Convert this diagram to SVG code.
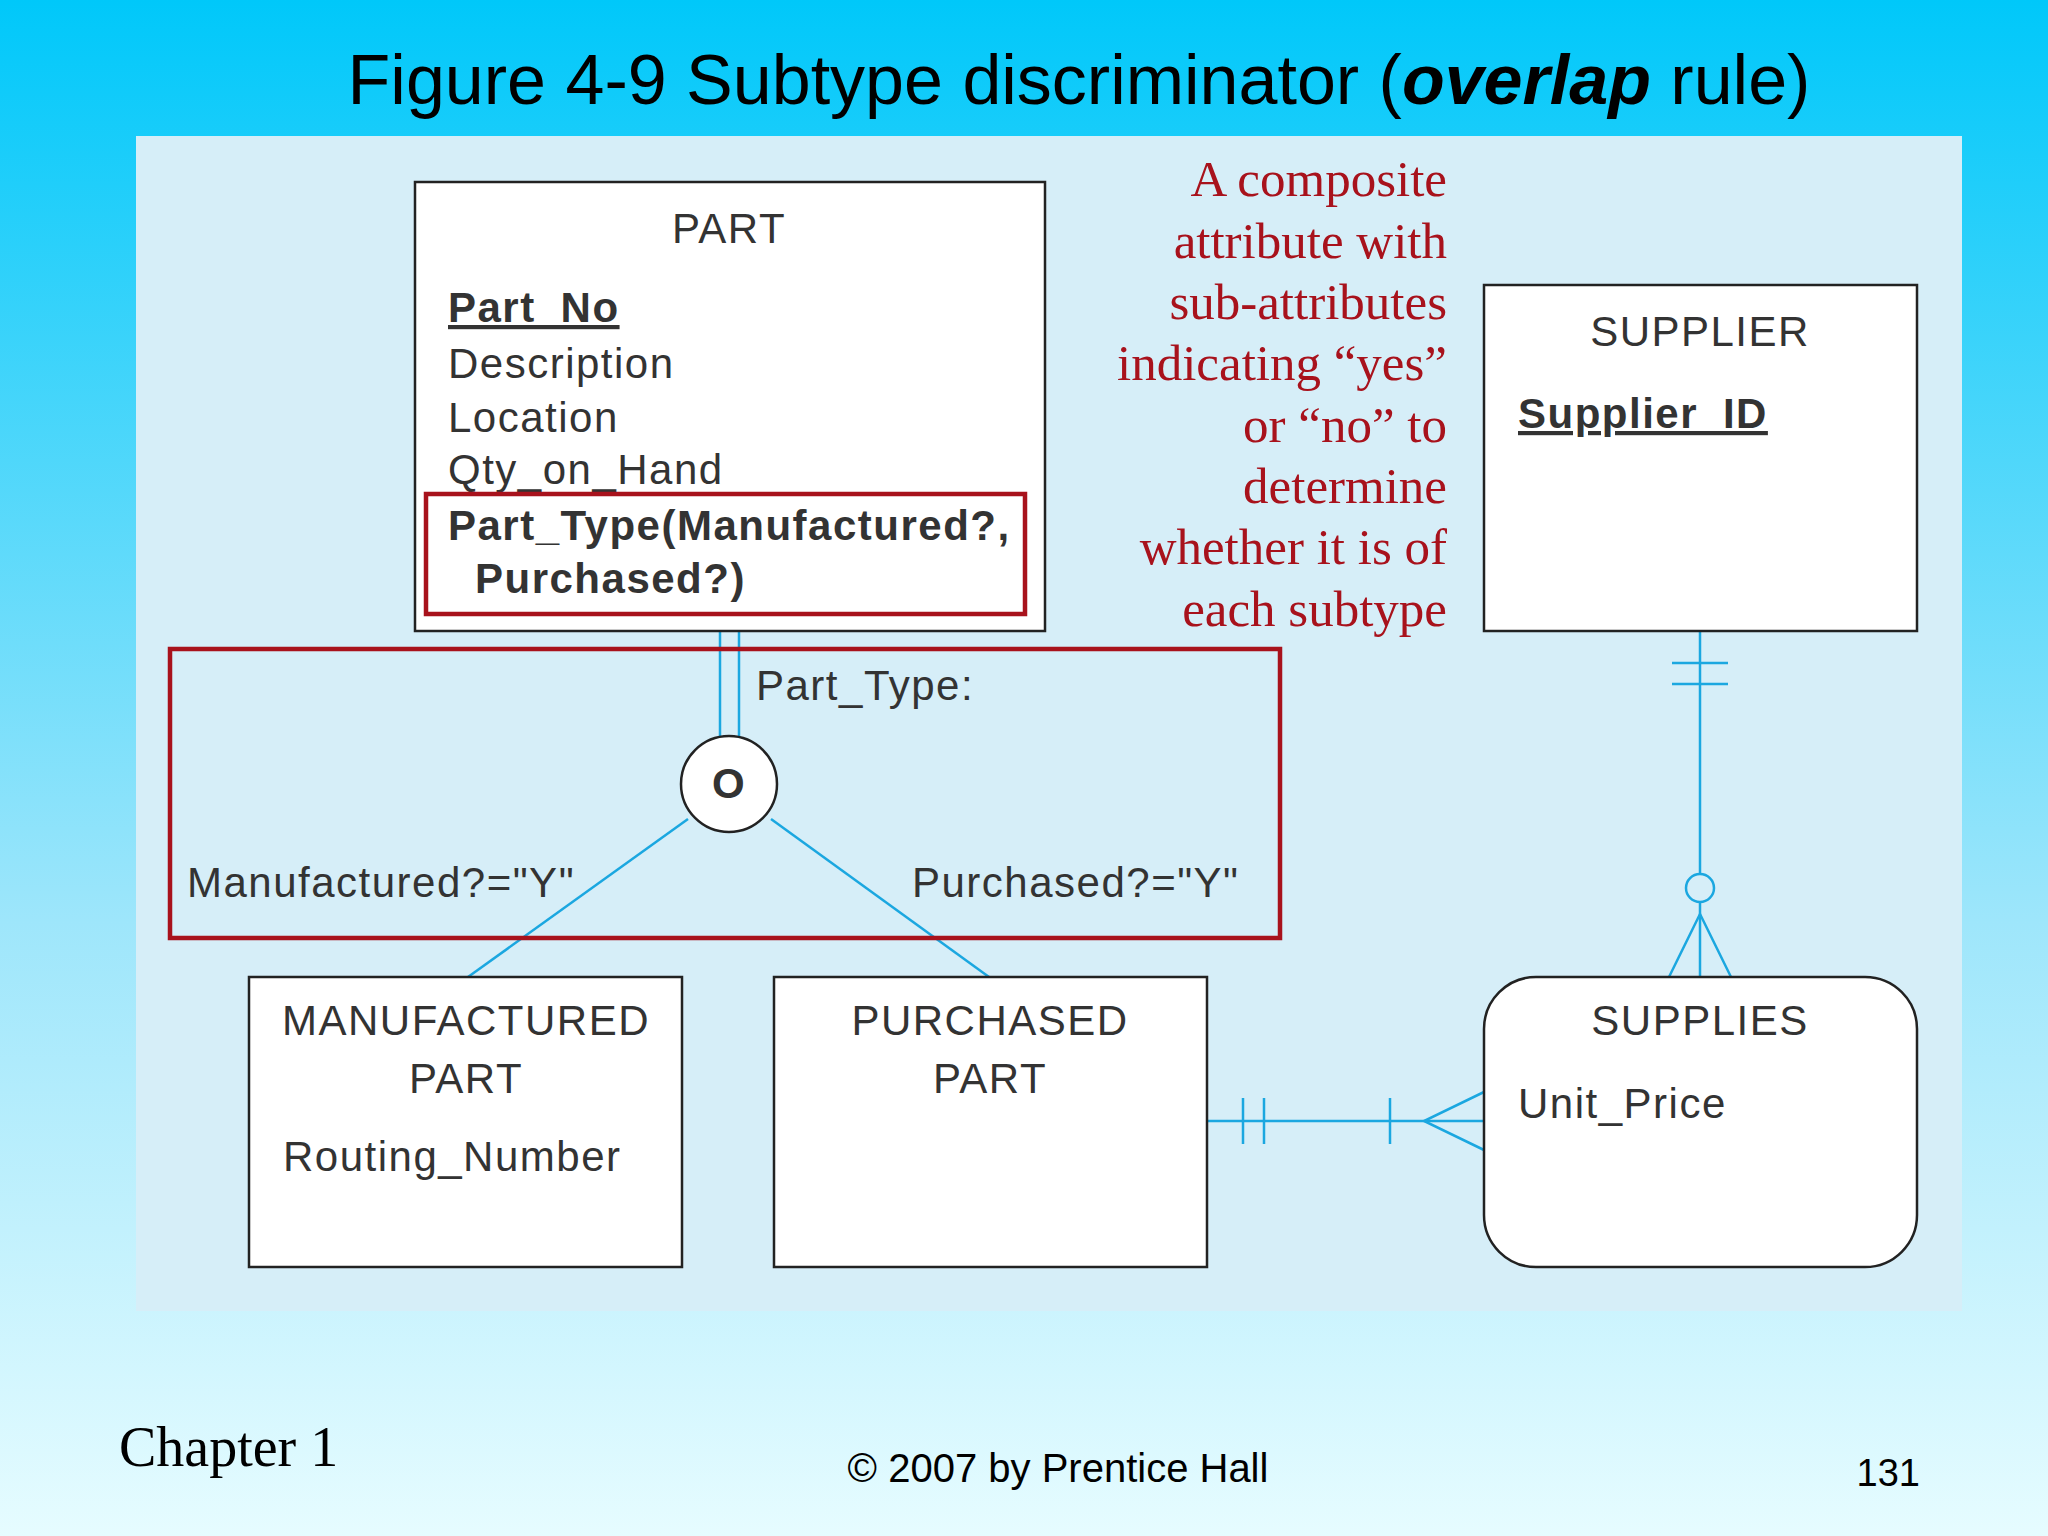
<svg xmlns="http://www.w3.org/2000/svg" width="2048" height="1536" viewBox="0 0 2048 1536">
<defs>
<linearGradient id="bg" x1="0" y1="0" x2="0" y2="1">
<stop offset="0" stop-color="#00C8FA"/><stop offset="0.6" stop-color="#9EE6FB"/><stop offset="1" stop-color="#E6FCFF"/>
</linearGradient>
<style>
.box{fill:#fff;stroke:#222;stroke-width:2.5}
.red{fill:none;stroke:#A8121C;stroke-width:4.5}
.ln{fill:none;stroke:#1BA7E0;stroke-width:2.5}
.t{font-family:"Liberation Sans",Arial,sans-serif;font-size:42px;letter-spacing:1.5px;fill:#333}
.c{text-anchor:middle}
.b{font-weight:bold}
.n{font-family:"Liberation Serif","Times New Roman",serif;font-size:51px;fill:#A8121C;text-anchor:end}
</style>
</defs>
<rect width="2048" height="1536" fill="url(#bg)"/>
<text x="1079" y="104" text-anchor="middle" font-family="Liberation Sans,Arial,sans-serif" font-size="70" fill="#000">Figure 4-9 Subtype discriminator (<tspan font-weight="bold" font-style="italic">overlap</tspan> rule)</text>
<rect x="136" y="136" width="1826" height="1175" fill="#D6EEF8"/>
<g id="connectors">
<line class="ln" x1="720" y1="631" x2="720" y2="738"/>
<line class="ln" x1="739" y1="631" x2="739" y2="738"/>
<line class="ln" x1="688" y1="819" x2="468" y2="977"/>
<line class="ln" x1="771" y1="819" x2="989" y2="977"/>
<line class="ln" x1="1700" y1="631" x2="1700" y2="874"/>
<line class="ln" x1="1672" y1="663" x2="1728" y2="663"/>
<line class="ln" x1="1672" y1="684" x2="1728" y2="684"/>
<circle class="ln" cx="1700" cy="888" r="14"/>
<line class="ln" x1="1700" y1="902" x2="1700" y2="977"/>
<polyline class="ln" points="1669,977 1700,914 1731,977"/>
<line class="ln" x1="1207" y1="1121" x2="1484" y2="1121"/>
<line class="ln" x1="1243" y1="1098" x2="1243" y2="1144"/>
<line class="ln" x1="1264" y1="1098" x2="1264" y2="1144"/>
<line class="ln" x1="1390" y1="1098" x2="1390" y2="1144"/>
<polyline class="ln" points="1484,1092 1424,1121 1484,1150"/>
</g>
<g id="part">
<rect class="box" x="415" y="182" width="630" height="449"/>
<text class="t c" x="729" y="243">PART</text>
<text class="t b" x="448" y="322" text-decoration="underline">Part_No</text>
<text class="t" x="448" y="378">Description</text>
<text class="t" x="448" y="432">Location</text>
<text class="t" x="448" y="484">Qty_on_Hand</text>
<text class="t b" x="448" y="540">Part_Type(Manufactured?,</text>
<text class="t b" x="475" y="593">Purchased?)</text>
<rect class="red" x="426" y="494" width="599" height="120"/>
</g>
<g id="discriminator">
<rect class="red" x="170" y="649" width="1110" height="289"/>
<text class="t" x="756" y="700">Part_Type:</text>
<circle cx="729" cy="784" r="48" fill="#fff" stroke="#222" stroke-width="2.5"/>
<text class="t c b" x="729" y="798">O</text>
<text class="t" x="187" y="897">Manufactured?="Y"</text>
<text class="t" x="912" y="897">Purchased?="Y"</text>
</g>
<g id="manufactured">
<rect class="box" x="249" y="977" width="433" height="290"/>
<text class="t c" x="466" y="1035">MANUFACTURED</text>
<text class="t c" x="466" y="1093">PART</text>
<text class="t" x="283" y="1171">Routing_Number</text>
</g>
<g id="purchased">
<rect class="box" x="774" y="977" width="433" height="290"/>
<text class="t c" x="990" y="1035">PURCHASED</text>
<text class="t c" x="990" y="1093">PART</text>
</g>
<g id="supplier">
<rect class="box" x="1484" y="285" width="433" height="346"/>
<text class="t c" x="1700" y="346">SUPPLIER</text>
<text class="t b" x="1518" y="428" text-decoration="underline">Supplier_ID</text>
</g>
<g id="supplies">
<rect class="box" x="1484" y="977" width="433" height="290" rx="52"/>
<text class="t c" x="1700" y="1035">SUPPLIES</text>
<text class="t" x="1518" y="1118">Unit_Price</text>
</g>
<g id="note">
<text class="n" x="1447" y="196">A composite</text>
<text class="n" x="1447" y="258">attribute with</text>
<text class="n" x="1447" y="319">sub-attributes</text>
<text class="n" x="1447" y="380">indicating “yes”</text>
<text class="n" x="1447" y="442">or “no” to</text>
<text class="n" x="1447" y="503">determine</text>
<text class="n" x="1447" y="564">whether it is of</text>
<text class="n" x="1447" y="626">each subtype</text>
</g>
<text x="119" y="1466" font-family="Liberation Serif,serif" font-size="56" fill="#000">Chapter 1</text>
<text x="1058" y="1482" text-anchor="middle" font-family="Liberation Sans,Arial,sans-serif" font-size="40" fill="#000">© 2007 by Prentice Hall</text>
<text x="1920" y="1486" text-anchor="end" font-family="Liberation Sans,Arial,sans-serif" font-size="38" fill="#000">131</text>
</svg>
